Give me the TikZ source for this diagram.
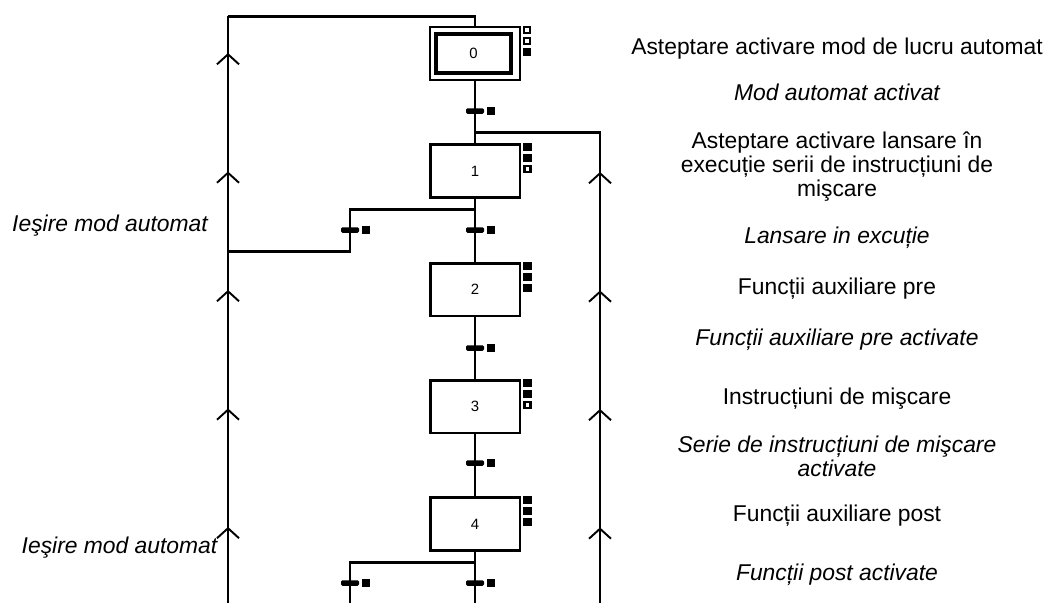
\documentclass[tikz,border=0pt]{standalone}
\usepackage{fontspec}
\setmainfont{Liberation Sans}
\usetikzlibrary{positioning,arrows.meta,decorations.markings}

\begin{document}
\begin{tikzpicture}[x=0.02cm,y=-0.02cm]

    \tikzset{
      LineStyle/.style = { line width=1.7pt },
      StepStyle/.style = { rectangle, draw, line width=1.7pt,
                  minimum width=1.8cm, minimum height=1.06cm, inner sep=0pt,
                  font=\fontsize{8.5}{10}\selectfont },
      InitStepStyle/.style = { StepStyle, line width=1.2pt },
      InitInnerStyle/.style = { StepStyle, line width=1.9pt,
                  minimum width=1.5cm, minimum height=0.78cm },
      FullMark/.style = { rectangle, draw, fill=black, line width=1.2pt,
                  minimum size=0.12cm, inner sep=0pt },
      EmptyMark/.style = { FullMark, fill=white },
      TransStyle/.style = { rectangle, fill=black, rounded corners=0.8pt,
                  minimum width=0.36cm, minimum height=0.11cm, inner sep=0pt },
      ActionStyle/.style = { align=center, inner sep=0pt,
                  font=\fontsize{13}{13.7}\selectfont },
      ReceptStyle/.style = { ActionStyle,
                  font=\fontsize{13}{13.7}\selectfont\itshape },
      UpArrows/.style 2 args = { postaction={decorate},
                  decoration={markings,
                  mark=between positions #1 and #2 step 2.37cm with
                  {\arrowreversed[line width=1.1pt]{Straight Barb[length=0.2cm,width=0.44cm]}}}}
    }

    \useasboundingbox (0,0) rectangle (1049,603);

      % steps
      \node[InitStepStyle] (e0) at (475,53.5) {};
      \node[InitInnerStyle] (e0i) at (473.5,53.5) {0};
      \node[StepStyle] (e1) at (475,171) {1};
      \node[StepStyle] (e2) at (475,289.5) {2};
      \node[StepStyle] (e3) at (475,406.5) {3};
      \node[StepStyle] (e4) at (475,524) {4};

      \node[EmptyMark, anchor=north west] (m0a) at ([xshift=0.04cm]e0.north east) {};
      \node[EmptyMark, below=0.06cm of m0a] (m0b) {};
      \node[FullMark, below=0.06cm of m0b] (m0c) {};
      \node[FullMark, anchor=north west] (m1a) at ([xshift=0.04cm]e1.north east) {};
      \node[FullMark, below=0.06cm of m1a] (m1b) {};
      \node[EmptyMark, below=0.06cm of m1b] (m1c) {};
      \node[FullMark, anchor=north west] (m2a) at ([xshift=0.04cm]e2.north east) {};
      \node[FullMark, below=0.06cm of m2a] (m2b) {};
      \node[FullMark, below=0.06cm of m2b] (m2c) {};
      \node[FullMark, anchor=north west] (m3a) at ([xshift=0.04cm]e3.north east) {};
      \node[FullMark, below=0.06cm of m3a] (m3b) {};
      \node[EmptyMark, below=0.06cm of m3b] (m3c) {};
      \node[FullMark, anchor=north west] (m4a) at ([xshift=0.04cm]e4.north east) {};
      \node[FullMark, below=0.06cm of m4a] (m4b) {};
      \node[FullMark, below=0.06cm of m4b] (m4c) {};

      % links
      \coordinate (sus) at (228,16);
      \coordinate (jos) at (228,603);
      \coordinate (dr) at (475,132);
      \coordinate (josdr) at (600,603);
      \coordinate (d1) at (475,209);
      \coordinate (r1) at (350,251);
      \coordinate (r1s) at (228,251);
      \coordinate (d4) at (475,562);
      \coordinate (r4) at (350,603);
      \coordinate (jos4) at (475,603);

      \draw[LineStyle] (e0.north) |- (sus);
      \draw[LineStyle, UpArrows={0.74cm}{10.5cm}] (sus) -- (jos);
      \draw[LineStyle, UpArrows={3.3cm}{10.6cm}] (dr) -| (josdr);
      \draw[LineStyle] (e0) -- (e1);
      \draw[LineStyle] (e1) -- (e2);
      \draw[LineStyle] (e2) -- (e3);
      \draw[LineStyle] (e3) -- (e4);
      \draw[LineStyle] (e4.south) -- (jos4);
      \draw[LineStyle] (d1) -| (r1) -- (r1s);
      \draw[LineStyle] (d4) -| (r4);

      % transitions
      \node[TransStyle] (t0) at (475,111) {};
      \node[FullMark, right=0.06cm of t0] (q0) {};
      \node[TransStyle] (t1) at (475,230) {};
      \node[FullMark, right=0.06cm of t1] (q1) {};
      \node[TransStyle] (t1b) at (350,230) {};
      \node[FullMark, right=0.06cm of t1b] (q1b) {};
      \node[TransStyle] (t2) at (475,348) {};
      \node[FullMark, right=0.06cm of t2] (q2) {};
      \node[TransStyle] (t3) at (475,463) {};
      \node[FullMark, right=0.06cm of t3] (q3) {};
      \node[TransStyle] (t4) at (475,583) {};
      \node[FullMark, right=0.06cm of t4] (q4) {};
      \node[TransStyle] (t4b) at (350,583) {};
      \node[FullMark, right=0.06cm of t4b] (q4b) {};

      % actions and receptivities
      \node[ActionStyle] (a0) at (837,49) {Asteptare activare mod de lucru automat};
      \node[ReceptStyle] (c0) at (837,92) {Mod automat activat};
      \node[ActionStyle] (a1) at (837,167) {Asteptare activare lansare în\\execuție serii de instrucțiuni de\\mişcare};
      \node[ReceptStyle] (c1) at (837,238) {Lansare in excuție};
      \node[ActionStyle] (a2) at (837,289) {Funcții auxiliare pre};
      \node[ReceptStyle] (c2) at (837,340) {Funcții auxiliare pre activate};
      \node[ActionStyle] (a3) at (837,399) {Instrucțiuni de mişcare};
      \node[ReceptStyle] (c3) at (837,456) {Serie de instrucțiuni de mişcare\\activate};
      \node[ActionStyle] (a4) at (837,516) {Funcții auxiliare post};
      \node[ReceptStyle] (c4) at (837,575) {Funcții post activate};

    \node[ReceptStyle] (iesire1) at (110,226) {Ieşire mod automat};
    \node[ReceptStyle] (iesire2) at (119.5,548) {Ieşire mod automat};
    \end{tikzpicture}
\end{document}
